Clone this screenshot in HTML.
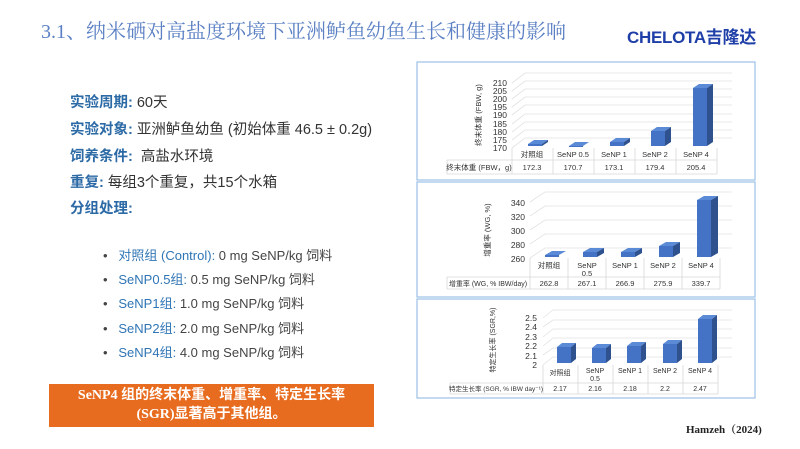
<!DOCTYPE html>
<html><head><meta charset="utf-8"><style>
html,body{margin:0;padding:0;background:#fff;}
body{width:800px;height:449px;position:relative;overflow:hidden;font-family:"Liberation Sans","Noto Sans CJK SC",sans-serif;}
.t{position:absolute;white-space:nowrap;}
.lb{color:#2c6aa6;font-weight:bold;}
.ln{font-size:14.5px;color:#333;left:70px;}
.bl{font-size:13px;color:#444;left:103px;}
.bl b{color:#2f75b5;font-weight:normal;}
</style></head><body>
<div class="t" style="left:41px;top:15px;font-size:20px;color:#5b80c4;font-family:'Liberation Serif','Noto Serif CJK SC',serif;">3.1、纳米硒对高盐度环境下亚洲鲈鱼幼鱼生长和健康的影响</div>
<div class="t" style="left:627px;top:23px;font-size:17px;font-weight:bold;color:#1f3fa8;letter-spacing:-0.3px;">CHELOTA吉隆达</div>

<div class="t ln" style="top:91px;"><span class="lb">实验周期:</span> 60天</div>
<div class="t ln" style="top:118px;"><span class="lb">实验对象:</span> 亚洲鲈鱼幼鱼 (初始体重 46.5 ± 0.2g)</div>
<div class="t ln" style="top:145px;"><span class="lb">饲养条件:</span>&nbsp; 高盐水环境</div>
<div class="t ln" style="top:171px;"><span class="lb">重复:</span> 每组3个重复，共15个水箱</div>
<div class="t ln" style="top:197px;"><span class="lb">分组处理:</span></div>

<div class="t bl" style="top:245px;">•&nbsp;&nbsp; <b>对照组 (Control):</b> 0 mg SeNP/kg 饲料</div>
<div class="t bl" style="top:269px;">•&nbsp;&nbsp; <b>SeNP0.5组:</b> 0.5 mg SeNP/kg 饲料</div>
<div class="t bl" style="top:293px;">•&nbsp;&nbsp; <b>SeNP1组:</b> 1.0 mg SeNP/kg 饲料</div>
<div class="t bl" style="top:318px;">•&nbsp;&nbsp; <b>SeNP2组:</b> 2.0 mg SeNP/kg 饲料</div>
<div class="t bl" style="top:342px;">•&nbsp;&nbsp; <b>SeNP4组:</b> 4.0 mg SeNP/kg 饲料</div>

<div style="position:absolute;left:49px;top:384px;width:325px;height:43px;background:#e86c1f;color:#fff;font-weight:bold;font-size:14px;line-height:19px;text-align:center;padding-top:2px;box-sizing:border-box;font-family:'Liberation Serif','Noto Sans CJK SC',serif;">SeNP4 组的终末体重、增重率、特定生长率<br>(SGR)显著高于其他组。</div>
<div class="t" style="left:686px;top:421px;font-size:11px;font-weight:bold;color:#222;font-family:'Liberation Serif','Noto Serif CJK SC',serif;">Hamzeh（2024)</div>

<svg width="800" height="449" style="position:absolute;left:0;top:0;" font-family="Liberation Sans, Noto Sans CJK SC, sans-serif">
<g fill="none" stroke="#9cc0e6" stroke-width="1.2">
<rect x="417" y="62" width="338" height="118"/>
<rect x="417" y="182" width="338" height="115"/>
<rect x="417" y="299" width="338" height="99"/>
</g>

<!-- Chart 1 -->
<g stroke="#e2e2e2" stroke-width="0.8" fill="none">
<path d="M512 148L525 138H732M512 140L525 130H732M512 132L525 122H732M512 124L525 114H732M512 115L525 105H732M512 107L525 97H732M512 99L525 89H732M512 91L525 81H732M512 83L525 73H732"/>
</g>
<g font-size="8.5" fill="#333" text-anchor="end">
<text x="507" y="151">170</text><text x="507" y="143">175</text><text x="507" y="135">180</text><text x="507" y="127">185</text><text x="507" y="118">190</text><text x="507" y="110">195</text><text x="507" y="102">200</text><text x="507" y="94">205</text><text x="507" y="86">210</text>
</g>
<text transform="translate(481,115) rotate(-90)" font-size="7.5" fill="#333" text-anchor="middle">终末体重 (FBW, g)</text>
<g>
<polygon points="528,146 542,146 542,144 528,144" fill="#4472c4"/><polygon points="528,144 542,144 548,140 534,140" fill="#5b8ad6"/><polygon points="542,146 548,142 548,140 542,144" fill="#2f528f"/>
<polygon points="569,146 583,146 583,147 569,147" fill="#4472c4"/><polygon points="569,146 583,146 589,142 575,142" fill="#5b8ad6"/>
<polygon points="610,146 624,146 624,142 610,142" fill="#4472c4"/><polygon points="610,142 624,142 630,138 616,138" fill="#5b8ad6"/><polygon points="624,146 630,142 630,138 624,142" fill="#2f528f"/>
<polygon points="651,146 665,146 665,131 651,131" fill="#4472c4"/><polygon points="651,131 665,131 671,127 657,127" fill="#5b8ad6"/><polygon points="665,146 671,142 671,127 665,131" fill="#2f528f"/>
<polygon points="693,146 707,146 707,88 693,88" fill="#4472c4"/><polygon points="693,88 707,88 713,84 699,84" fill="#5b8ad6"/><polygon points="707,146 713,142 713,84 707,88" fill="#2f528f"/>
</g>
<g stroke="#d8d8d8" stroke-width="0.8" fill="none">
<path d="M447 160H717M447 174H717M447 160V174M512 148V174M553 148V174M594 148V174M635 148V174M676 148V174M717 148V174"/>
</g>
<g font-size="7.5" fill="#333" text-anchor="middle">
<text x="532" y="157">对照组</text><text x="573" y="157">SeNP 0.5</text><text x="614" y="157">SeNP 1</text><text x="655" y="157">SeNP 2</text><text x="696" y="157">SeNP 4</text>
<text x="532" y="170">172.3</text><text x="573" y="170">170.7</text><text x="614" y="170">173.1</text><text x="655" y="170">179.4</text><text x="696" y="170">205.4</text>
<text x="479" y="170">终末体重 (FBW，g)</text>
</g>

<!-- Chart 2 -->
<g stroke="#e2e2e2" stroke-width="0.8" fill="none">
<path d="M530 258L545 248H732M530 244L545 234H732M530 230L545 220H732M530 216L545 206H732M530 202L545 192H732"/>
</g>
<g font-size="8.5" fill="#333" text-anchor="end">
<text x="525" y="262">260</text><text x="525" y="248">280</text><text x="525" y="234">300</text><text x="525" y="220">320</text><text x="525" y="206">340</text>
</g>
<text transform="translate(490,230) rotate(-90)" font-size="7.5" fill="#333" text-anchor="middle">增重率 (WG, %)</text>
<g>
<polygon points="545,257 559,257 559,255 545,255" fill="#4472c4"/><polygon points="545,255 559,255 566,251 552,251" fill="#5b8ad6"/>
<polygon points="583,257 597,257 597,252 583,252" fill="#4472c4"/><polygon points="583,252 597,252 604,248 590,248" fill="#5b8ad6"/><polygon points="597,257 604,253 604,248 597,252" fill="#2f528f"/>
<polygon points="621,257 635,257 635,252 621,252" fill="#4472c4"/><polygon points="621,252 635,252 642,248 628,248" fill="#5b8ad6"/><polygon points="635,257 642,253 642,248 635,252" fill="#2f528f"/>
<polygon points="659,257 673,257 673,246 659,246" fill="#4472c4"/><polygon points="659,246 673,246 680,242 666,242" fill="#5b8ad6"/><polygon points="673,257 680,253 680,242 673,246" fill="#2f528f"/>
<polygon points="697,257 711,257 711,200 697,200" fill="#4472c4"/><polygon points="697,200 711,200 718,196 704,196" fill="#5b8ad6"/><polygon points="711,257 718,253 718,196 711,200" fill="#2f528f"/>
</g>
<g stroke="#d8d8d8" stroke-width="0.8" fill="none">
<path d="M447 277H720M447 289H720M447 277V289M530 258V289M568 258V289M606 258V289M644 258V289M682 258V289M720 258V289"/>
</g>
<g font-size="7.5" fill="#333" text-anchor="middle">
<text x="549" y="268">对照组</text><text x="587" y="268">SeNP</text><text x="587" y="276">0.5</text><text x="625" y="268">SeNP 1</text><text x="663" y="268">SeNP 2</text><text x="701" y="268">SeNP 4</text>
<text x="549" y="286">262.8</text><text x="587" y="286">267.1</text><text x="625" y="286">266.9</text><text x="663" y="286">275.9</text><text x="701" y="286">339.7</text>
<text x="488" y="286" font-size="7">增重率 (WG, % IBW/day)</text>
</g>

<!-- Chart 3 -->
<g stroke="#e2e2e2" stroke-width="0.8" fill="none">
<path d="M543 365L553 357H732M543 355L553 348H732M543 346L553 338H732M543 337L553 329H732M543 327L553 320H732M543 318L553 310H732"/>
</g>
<g font-size="8.5" fill="#333" text-anchor="end">
<text x="537" y="368">2</text><text x="537" y="359">2.1</text><text x="537" y="349">2.2</text><text x="537" y="340">2.3</text><text x="537" y="330">2.4</text><text x="537" y="321">2.5</text>
</g>
<text transform="translate(495,340) rotate(-90)" font-size="7" fill="#333" text-anchor="middle">特定生长率 (SGR,%)</text>
<g>
<polygon points="557,363 571,363 571,347 557,347" fill="#4472c4"/><polygon points="557,347 571,347 576,343 562,343" fill="#5b8ad6"/><polygon points="571,363 576,359 576,343 571,347" fill="#2f528f"/>
<polygon points="592,363 606,363 606,348 592,348" fill="#4472c4"/><polygon points="592,348 606,348 611,344 597,344" fill="#5b8ad6"/><polygon points="606,363 611,359 611,344 606,348" fill="#2f528f"/>
<polygon points="627,363 641,363 641,346 627,346" fill="#4472c4"/><polygon points="627,346 641,346 646,342 632,342" fill="#5b8ad6"/><polygon points="641,363 646,359 646,342 641,346" fill="#2f528f"/>
<polygon points="663,363 677,363 677,344 663,344" fill="#4472c4"/><polygon points="663,344 677,344 682,340 668,340" fill="#5b8ad6"/><polygon points="677,363 682,359 682,340 677,344" fill="#2f528f"/>
<polygon points="698,363 712,363 712,319 698,319" fill="#4472c4"/><polygon points="698,319 712,319 717,315 703,315" fill="#5b8ad6"/><polygon points="712,363 717,359 717,315 712,319" fill="#2f528f"/>
</g>
<g stroke="#d8d8d8" stroke-width="0.8" fill="none">
<path d="M450 383H718M450 394H718M450 383V394M543 365V394M578 365V394M613 365V394M648 365V394M683 365V394M718 365V394"/>
</g>
<g font-size="7" fill="#333" text-anchor="middle">
<text x="560" y="375">对照组</text><text x="595" y="373">SeNP</text><text x="595" y="381">0.5</text><text x="630" y="373">SeNP 1</text><text x="665" y="373">SeNP 2</text><text x="700" y="373">SeNP 4</text>
<text x="560" y="391">2.17</text><text x="595" y="391">2.16</text><text x="630" y="391">2.18</text><text x="665" y="391">2.2</text><text x="700" y="391">2.47</text>
<text x="496" y="391" font-size="6.5">特定生长率 (SGR, % IBW day⁻¹)</text>
</g>
</svg>
</body></html>
